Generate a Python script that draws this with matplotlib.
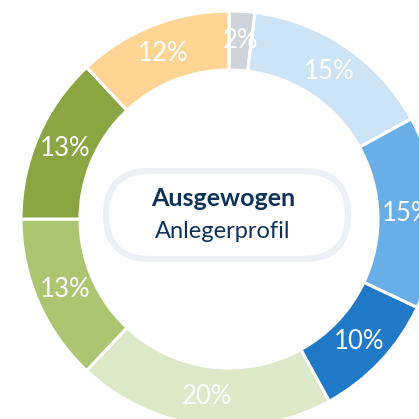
import matplotlib
matplotlib.use("Agg")
import matplotlib.pyplot as plt
import numpy as np
from matplotlib.patches import FancyBboxPatch

values = [2, 15, 15, 10, 20, 13, 13, 12]
labels = ["2%", "15%", "15%", "10%", "20%", "13%", "13%", "12%"]
colors = ["#d0d4d9", "#cde3f6", "#6aaee8", "#2079c7", "#dde8c8", "#abc571", "#8aa642", "#fed595"]
title = "Ausgewogen"
subtitle = "Anlegerprofil"

W = H = 419
fig = plt.figure(figsize=(W / 100, H / 100), dpi=100)
ax = fig.add_axes([0, 0, 1, 1])

cx, cy = 229, H - 219
R, ring = 208, 59
ax.pie(values, colors=colors, startangle=90, counterclock=False,
       center=(cx, cy), radius=R, frame=True,
       wedgeprops=dict(width=ring, edgecolor="white", linewidth=2.2))
ax.set_xlim(0, W)
ax.set_ylim(0, H)
ax.set_aspect("equal")
ax.axis("off")

total = sum(values)
start = 90.0
rmid = R - ring / 2
for v, lab in zip(values, labels):
    mid = start - v / total * 360 / 2
    start -= v / total * 360
    x = cx + rmid * np.cos(np.radians(mid))
    y = cy + rmid * np.sin(np.radians(mid))
    ax.text(x, y, lab, ha="center", va="center", color="white",
            fontsize=18.5, family="Lato", fontweight="normal")

# pill
px0, px1 = 106, 348
py_top, py_bot = H - 171, H - 259
ph = py_top - py_bot
pill = FancyBboxPatch((px0 + ph / 2, py_bot + ph / 2), (px1 - px0) - ph, 0,
                      boxstyle=f"round,pad={ph/2},rounding_size={ph/2}",
                      facecolor="white", edgecolor="#edf1f5", linewidth=4.5)
ax.add_patch(pill)

tx = 223
ax.text(tx, H - 198, title, ha="center", va="center", color="#0f3358",
        fontsize=18, family="Lato", fontweight="bold")
ax.text(tx, H - 231, subtitle, ha="center", va="center", color="#0f3358",
        fontsize=17, family="Lato", fontweight="normal")

fig.savefig("out.png", dpi=100)
